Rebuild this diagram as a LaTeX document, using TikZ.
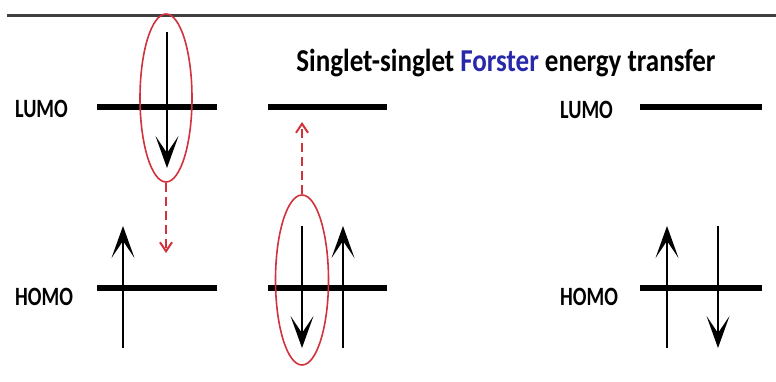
\documentclass[tikz,border=0pt]{standalone}
\usepackage{fontspec}
\setmainfont{Carlito}
\usetikzlibrary{arrows.meta,shapes.geometric}
\definecolor{fblue}{RGB}{40,40,170}
\definecolor{ered}{RGB}{210,50,60}
\tikzset{
  level/.style={line width=5.5pt, black},
  spin/.style={line width=2.8pt, black, -{Stealth[length=32pt,width=23pt,inset=17pt,line width=0pt]}},
  lbl/.style={font=\bfseries\fontsize{22}{22}\selectfont, inner sep=0pt},
  ring/.style={draw=ered, line width=1.6pt},
  hop/.style={draw=ered, line width=2pt, dash pattern=on 9pt off 5pt, -{Straight Barb[length=9pt,width=12pt]}}
}
\begin{document}
\begin{tikzpicture}[x=1pt,y=-1pt]
\useasboundingbox (0,0) rectangle (776,381);
% top rule
\draw[line width=3pt, black!75] (7,15) -- (776,15);
% title
\node[inner sep=0pt, font=\bfseries\fontsize{27}{28}\selectfont, anchor=base] (title) at (506,71)
  {\scalebox{1}[1.18]{Singlet-singlet \textcolor{fblue}{Forster} energy transfer}};
% labels
\node[lbl, anchor=west] (lumoA) at (15,109) {\scalebox{0.92}[1.2]{LUMO}};
\node[lbl, anchor=west] (homoA) at (15,297) {\scalebox{0.92}[1.2]{HOMO}};
\node[lbl, anchor=west] (lumoB) at (560,110) {\scalebox{0.92}[1.2]{LUMO}};
\node[lbl, anchor=west] (homoB) at (560,297) {\scalebox{0.92}[1.2]{HOMO}};
% levels
\draw[level] (97,107) coordinate (l1a) -- (217,107) coordinate (l1b);
\draw[level] (268,107) coordinate (l2a) -- (387,107) coordinate (l2b);
\draw[level] (97,288) coordinate (h1a) -- (217,288) coordinate (h1b);
\draw[level] (268,288) coordinate (h2a) -- (387,288) coordinate (h2b);
\draw[level] (640,107) coordinate (l3a) -- (762,107) coordinate (l3b);
\draw[level] (640,288) coordinate (h3a) -- (762,288) coordinate (h3b);
% spins
\coordinate (s1t) at (167,32); \coordinate (s1b) at (167,168);
\draw[spin] (s1t) -- (s1b);
\coordinate (s2b) at (123,348); \coordinate (s2t) at (123,226);
\draw[spin] (s2b) -- (s2t);
\coordinate (s3t) at (302,226); \coordinate (s3b) at (302,348);
\draw[spin] (s3t) -- (s3b);
\coordinate (s4b) at (343,348); \coordinate (s4t) at (343,226);
\draw[spin] (s4b) -- (s4t);
\coordinate (s5b) at (667,348); \coordinate (s5t) at (667,226);
\draw[spin] (s5b) -- (s5t);
\coordinate (s6t) at (718,226); \coordinate (s6b) at (718,348);
\draw[spin] (s6t) -- (s6b);
% ellipses
\node[ring, ellipse, minimum width=52pt, minimum height=168pt, inner sep=0pt] (e1) at (166,98) {};
\node[ring, ellipse, minimum width=53pt, minimum height=170pt, inner sep=0pt] (e2) at (302,280) {};
% dashed transfer arrows
\coordinate (d1) at (166,253);
\draw[hop] (e1.south) -- (d1);
\coordinate (d2) at (302,122);
\draw[hop] (e2.north) -- (d2);
\end{tikzpicture}
\end{document}
